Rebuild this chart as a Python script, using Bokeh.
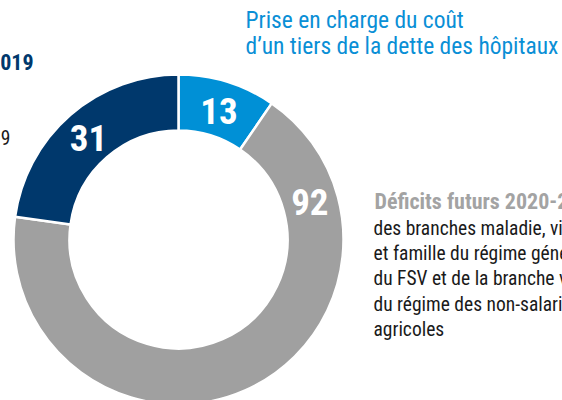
import numpy as np
from bokeh.plotting import figure
from bokeh.models import Range1d, ColumnDataSource
from bokeh.core.properties import value
from bokeh.embed import file_html
from bokeh.resources import INLINE

# ---- data ----
categories = ["Dette des hôpitaux", "Déficits futurs 2020-2023", "Déficits cumulés 2019"]
amounts = [13, 92, 31]
colors = ["#0090D6", "#A0A0A0", "#00386C"]

title_lines = ["Prise en charge du coût", "d\u2019un tiers de la dette des hôpitaux"]
right_head = "Déficits futurs 2020-2023"
right_lines = ["des branches maladie, vieillesse", "et famille du régime général,",
               "du FSV et de la branche vieillesse", "du régime des non-salariés",
               "agricoles"]
left_head = "Déficits cumulés 2019"
left_line = "de l\u2019Acoss à fin 2019"

FONT = "'Roboto Condensed', 'DejaVu Sans Condensed', 'Liberation Sans Narrow', Roboto, sans-serif"
H = 400  # reference frame height, y is measured downward in the reference
DESC = 0.26  # baseline correction (fraction of font size)

p = figure(width=562, height=400, output_backend="svg", toolbar_location=None,
           x_range=Range1d(0, 562), y_range=Range1d(0, 400), min_border=0)
p.axis.visible = False
p.grid.visible = False
p.outline_line_color = None
p.background_fill_color = "white"


def base(y_ref, size):
    return H - y_ref + DESC * size


# ---- donut ----
cx, cy = 178, H - 239
r_in, r_out = 109, 165
vals = np.array(amounts, dtype=float)
frac = vals / vals.sum()
cum = np.concatenate([[0], np.cumsum(frac)])
# clockwise from 12 o'clock
start = np.pi / 2 - 2 * np.pi * cum[1:]
end = np.pi / 2 - 2 * np.pi * cum[:-1]
src = ColumnDataSource(dict(start=start, end=end, color=colors))
p.annular_wedge(x=cx, y=cy, inner_radius=r_in, outer_radius=r_out,
                start_angle="start", end_angle="end", color="color",
                line_color="white", line_width=2.5, source=src)

# value labels: at mid-angle, except the large slice placed at the right
mid = 2 * np.pi * (cum[:-1] + cum[1:]) / 2
mid[1] = np.deg2rad(73.5)
r_lab = 137
LS = 37
lx = cx + r_lab * np.sin(mid)
ly = cy + r_lab * np.cos(mid)
p.text(x=lx, y=ly - 11.5 + DESC * LS, text=[str(a) for a in amounts], text_color="white",
       text_font=value(FONT), text_font_style="bold", text_font_size=f"{LS}px",
       text_align="center", text_baseline="alphabetic")

# ---- title (top) ----
p.text(x=[245, 245], y=[base(26, 23.5), base(52, 23.5)], text=title_lines, text_color="#0A8FD6",
       text_font=value(FONT), text_font_size="23.5px", text_baseline="alphabetic")

# ---- right annotation ----
p.text(x=[374], y=[base(207, 22)], text=[right_head], text_color="#A3A3A3",
       text_font=value(FONT), text_font_style="bold", text_font_size="22px",
       text_baseline="alphabetic")
p.text(x=[373] * len(right_lines), y=[base(233 + 25.2 * i, 19.5) for i in range(len(right_lines))],
       text=right_lines, text_color="#1a1a1a",
       text_font=value(FONT), text_font_size="19.5px", text_baseline="alphabetic")

# ---- left annotation (cut at the edge) ----
p.text(x=[33], y=[base(68, 22)], text=[left_head], text_color="#00386C",
       text_font=value(FONT), text_font_style="bold", text_font_size="22px",
       text_align="right", text_baseline="alphabetic")
p.text(x=[10], y=[base(143, 19.5)], text=[left_line], text_color="#1a1a1a",
       text_font=value(FONT), text_font_size="19.5px",
       text_align="right", text_baseline="alphabetic")

open("out.html", "w").write(file_html(p, INLINE))
